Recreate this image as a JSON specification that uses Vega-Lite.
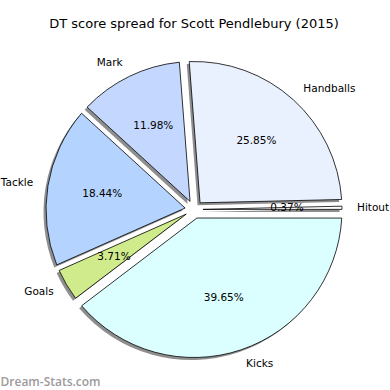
{
  "$schema": "https://vega.github.io/schema/vega-lite/v6.json",
  "width": 388,
  "height": 361,
  "autosize": {"type": "none"},
  "padding": {"left": 0, "top": 29, "right": 2, "bottom": 0},
  "background": "white",
  "title": {"text": "DT score spread for Scott Pendlebury (2015)", "font": "DejaVu Sans", "fontSize": 13, "fontWeight": "normal", "color": "#000000", "anchor": "middle", "frame": "group", "baseline": "alphabetic", "offset": -12},
  "config": {"view": {"stroke": null}},
  "data": {"values": [
    {"part": "Handballs", "pct": 25.85, "rank": 1},
    {"part": "Hitout", "pct": 0.37, "rank": 2},
    {"part": "Kicks", "pct": 39.65, "rank": 3},
    {"part": "Goals", "pct": 3.71, "rank": 4},
    {"part": "Tackle", "pct": 18.44, "rank": 5},
    {"part": "Mark", "pct": 11.98, "rank": 6}
  ]},
  "layer": [
    {
      "mark": {"type": "arc", "fill": "#8e8e8e", "innerRadius": 9, "outerRadius": 148, "xOffset": -2.5, "yOffset": 2.5,
        "padAngle": {"expr": "2*asin(9.05*sin((datum.pct_end-datum.pct_start)*PI/100)/148.27)"}},
      "encoding": {
        "theta": {"field": "pct", "type": "quantitative", "stack": true, "scale": {"type": "linear", "domain": [0, 100], "range": [-0.0767, 6.2065]}},
        "order": {"field": "rank", "type": "quantitative"}
      }
    },
    {
      "mark": {"type": "arc", "stroke": "#000000", "strokeWidth": 0.8, "innerRadius": 9, "outerRadius": 148,
        "padAngle": {"expr": "2*asin(9.05*sin((datum.pct_end-datum.pct_start)*PI/100)/148.27)"}},
      "encoding": {
        "theta": {"field": "pct", "type": "quantitative", "stack": true, "scale": {"type": "linear", "domain": [0, 100], "range": [-0.0767, 6.2065]}},
        "order": {"field": "rank", "type": "quantitative"},
        "color": {"field": "part", "type": "nominal", "legend": null,
          "scale": {"domain": ["Handballs", "Hitout", "Kicks", "Goals", "Tackle", "Mark"], "range": ["#e9f1ff", "#ffffff", "#dbfeff", "#d0eb8b", "#b4d4ff", "#c4d8ff"]}}
      }
    },
    {
      "mark": {"type": "text", "font": "DejaVu Sans", "fontSize": 10.5, "baseline": "middle", "radius": 163, "color": "#000000",
        "align": {"expr": "sin(-0.0767 + 0.0314159*(datum.pct_start+datum.pct_end)) >= 0 ? 'left' : 'right'"}},
      "encoding": {
        "theta": {"field": "pct", "type": "quantitative", "stack": true, "scale": {"type": "linear", "domain": [0, 100], "range": [-0.0767, 6.2065]}},
        "order": {"field": "rank", "type": "quantitative"},
        "text": {"field": "part", "type": "nominal"}
      }
    },
    {
      "mark": {"type": "text", "font": "DejaVu Sans", "fontSize": 10.5, "baseline": "middle", "align": "center", "radius": 93, "color": "#000000",
        "text": {"expr": "format(datum.pct, '.2f') + '%'"}},
      "encoding": {
        "theta": {"field": "pct", "type": "quantitative", "stack": true, "scale": {"type": "linear", "domain": [0, 100], "range": [-0.0767, 6.2065]}},
        "order": {"field": "rank", "type": "quantitative"}
      }
    },
    {
      "mark": {"type": "rule", "opacity": 0},
      "encoding": {
        "x": {"datum": 0, "type": "quantitative",
          "axis": {"title": "Dream-Stats.com", "labels": false, "ticks": false, "domain": false, "grid": false,
            "titleFont": "Open Sans", "titleFontSize": 12, "titleFontWeight": 600, "titleColor": "#9a9a9a",
            "titleAnchor": "start", "titleAlign": "left", "titleBaseline": "alphabetic", "titleX": 0, "titleY": -5}}
      }
    }
  ]
}
